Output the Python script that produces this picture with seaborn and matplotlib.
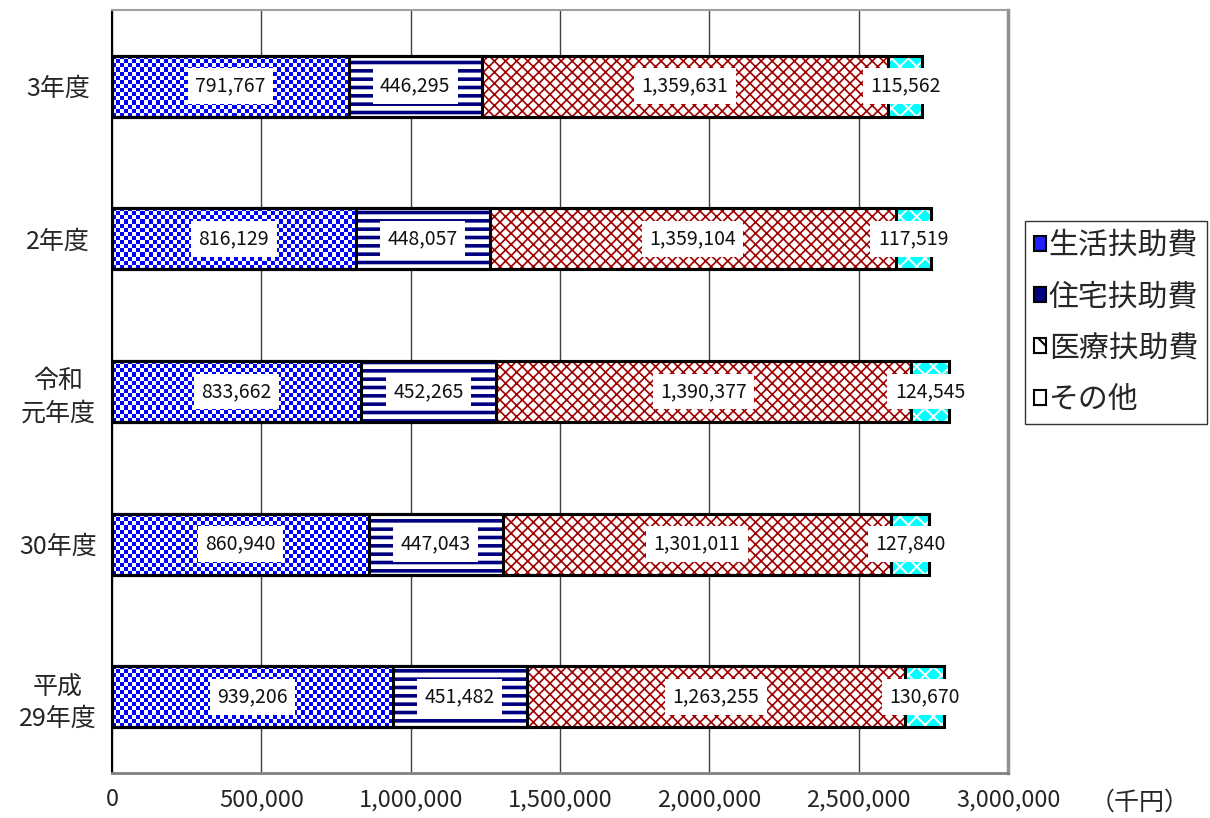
import numpy as np
import pandas as pd
import matplotlib
matplotlib.use("Agg")
import matplotlib.pyplot as plt
from matplotlib.patches import Rectangle
from matplotlib.colors import ListedColormap
from matplotlib.ticker import FuncFormatter, MultipleLocator, FixedLocator
import seaborn as sns

# data (千円)
years = ["3年度", "2年度", "令和\n元年度", "30年度", "平成\n29年度"]
series_names = ["生活扶助費", "住宅扶助費", "医療扶助費", "その他"]
living = [791767, 816129, 833662, 860940, 939206]
housing = [446295, 448057, 452265, 447043, 451482]
medical = [1359631, 1359104, 1390377, 1301011, 1263255]
other = [115562, 117519, 124545, 127840, 130670]

# (face, hatch colour, hatch, hatch lw) -- living gets a checkerboard below
styles = [
    ("#0000ff", "#0000ff", None, 1.0),
    ("white", "#000080", "--", 2.6),
    ("white", "#a00000", "xxx", 1.2),
    ("#00ffff", "white", "xx", 1.4),
]

sns.set_style("white")
plt.rcParams["font.family"] = ["Noto Sans CJK JP", "DejaVu Sans"]
plt.rcParams["hatch.linewidth"] = 1.5

fig = plt.figure(figsize=(12.1, 8.18), dpi=100)
ax = fig.add_axes([0.0926, 0.055, 0.7405, 0.933])

values = np.array([living, housing, medical, other], dtype=float)
cum = values.cumsum(axis=0)

ax.set_xlim(0, 3000000)
ax.set_ylim(len(years) - 0.5, -0.5)

# draw cumulative bars longest first, shorter ones cover the left part
living_patches = []
for i in range(len(series_names) - 1, -1, -1):
    face, hcol, hatch, hlw = styles[i]
    df = pd.DataFrame({"year": years, "end": cum[i]})
    n_before = len(ax.patches)
    sns.barplot(data=df, x="end", y="year", order=years, orient="h",
                color=face, saturation=1, width=0.4, errorbar=None,
                edgecolor=hcol, linewidth=0, hatch=hatch, ax=ax, zorder=2)
    new = ax.patches[n_before:]
    for p in new:
        p.set_facecolor(face)
        if hasattr(p, "set_hatch_linewidth"):
            p.set_hatch_linewidth(hlw)
        ax.add_patch(Rectangle(p.get_xy(), p.get_width(), p.get_height(),
                               facecolor="none", edgecolor="black",
                               linewidth=2.2, zorder=3))
    if i == 0:
        living_patches = list(new)

ax.set_xlim(0, 3000000)
ax.set_ylim(len(years) - 0.5, -0.5)

# blue / white checkerboard for 生活扶助費
checker_cmap = ListedColormap(["#0000ff", "white"])
for p in living_patches:
    x0, y0 = p.get_xy()
    w, h = p.get_width(), p.get_height()
    (px0, py0), (px1, py1) = ax.transData.transform([(x0, y0), (x0 + w, y0 + h)])
    nx = max(1, int(abs(px1 - px0) / 4))
    ny = max(1, int(abs(py1 - py0) / 4))
    board = np.indices((ny, nx)).sum(axis=0) % 2
    ax.imshow(board, cmap=checker_cmap, extent=(x0, x0 + w, y0 + h, y0),
              aspect="auto", interpolation="nearest", zorder=2.5,
              clip_path=p, clip_on=True)

ax.set_xlim(0, 3000000)
ax.set_ylim(len(years) - 0.5, -0.5)

# segment labels
for i in range(len(series_names)):
    for j in range(len(years)):
        start = cum[i][j] - values[i][j]
        ax.text(start + values[i][j] / 2, j, f"{int(values[i][j]):,}",
                ha="center", va="center", fontsize=14, color="#111111",
                zorder=5,
                bbox=dict(boxstyle="square,pad=0.38", facecolor="white",
                          edgecolor="none"))

ax.xaxis.set_major_locator(MultipleLocator(500000))
ax.xaxis.set_major_formatter(FuncFormatter(lambda v, _: f"{int(v):,}"))
ax.xaxis.grid(True, color="#404040", linewidth=1, zorder=0)
ax.set_axisbelow(True)
ax.set_xlabel("")
ax.set_ylabel("")
ax.tick_params(axis="x", length=0, pad=11, labelsize=17)
ax.tick_params(axis="y", which="major", length=0, pad=39, labelsize=18)
for lab in ax.get_yticklabels():
    lab.set_horizontalalignment("center")
    lab.set_multialignment("center")
    lab.set_linespacing(1.3)
ax.yaxis.set_minor_locator(FixedLocator(np.arange(-0.5, len(years), 1.0)))
ax.tick_params(axis="y", which="minor", direction="in", length=6,
               width=1, color="black")

for side, col, lw in [("left", "black", 1.5), ("top", "#a0a0a0", 1.5),
                      ("right", "#909090", 2.5), ("bottom", "#808080", 2)]:
    ax.spines[side].set_visible(True)
    ax.spines[side].set_color(col)
    ax.spines[side].set_linewidth(lw)

fig.text(0.942, 1 - 803 / 818, "（千円）", ha="center", va="center",
         fontsize=18)

# legend
leg_faces = ["#2020ff", "#000080", "white", "white"]
leg_hatch = [None, None, "x", None]
leg_handles = []
for i, name in enumerate(series_names):
    leg_handles.append(Rectangle((0, 0), 1, 1, facecolor=leg_faces[i],
                                 edgecolor="black", hatch=leg_hatch[i],
                                 linewidth=1.5, label=name))
leg = fig.legend(handles=leg_handles, loc="upper left",
                 bbox_to_anchor=(0.847, 0.73), fontsize=21.5,
                 handlelength=0.4, handleheight=0.4, handletextpad=0.1,
                 labelspacing=0.68, borderpad=0.3, borderaxespad=0,
                 frameon=True, fancybox=False)
leg.get_frame().set_edgecolor("black")
leg.get_frame().set_linewidth(1)

fig.savefig("out.png", dpi=100)
